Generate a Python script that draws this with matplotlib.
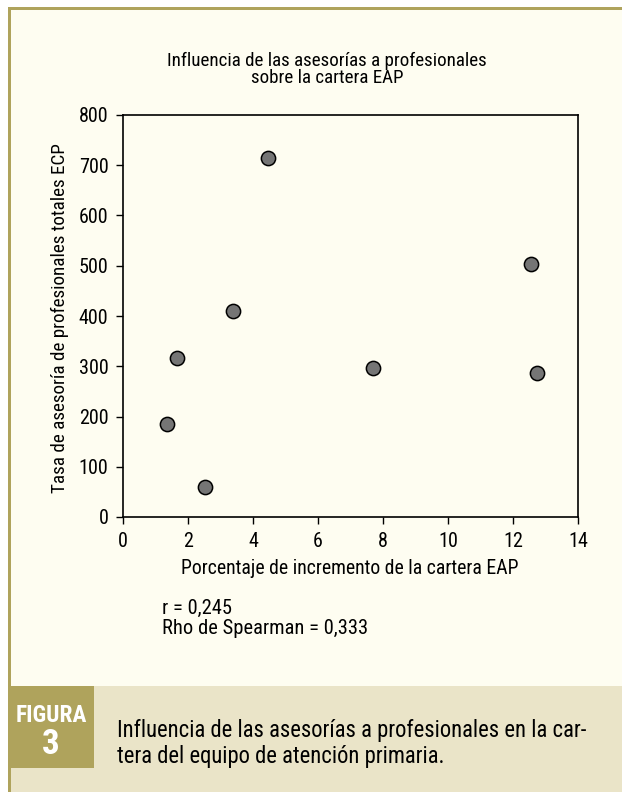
import matplotlib
matplotlib.use("Agg")
import matplotlib.pyplot as plt
from matplotlib.patches import Rectangle
from matplotlib import font_manager as fm

# ---- data ----
x_incremento = [1.35, 1.66, 2.52, 3.38, 4.46, 7.69, 12.55, 12.74]
y_tasa = [185, 316, 60, 410, 714, 297, 503, 287]
x_ticks = [0, 2, 4, 6, 8, 10, 12, 14]
y_ticks = [0, 100, 200, 300, 400, 500, 600, 700, 800]

title_text = "Influencia de las asesorías a profesionales\nsobre la cartera EAP"
xlabel_text = "Porcentaje de incremento de la cartera EAP"
ylabel_text = "Tasa de asesoría de profesionales totales ECP"
stats_lines = ["r = 0,245", "Rho de Spearman = 0,333"]
caption_text = "Influencia de las asesorías a profesionales en la car-\ntera del equipo de atención primaria."

# ---- pick a narrow font if available ----
ttf = fm.fontManager.ttflist
names = {f.name for f in ttf}
stretch = "normal"
family = None
for cand in ["Liberation Sans Narrow", "Roboto Condensed", "Arial Narrow",
             "Nimbus Sans Narrow", "Open Sans Condensed"]:
    if cand in names:
        family = cand
        break
if family is None:
    if any(f.name == "DejaVu Sans" and str(f.stretch) in ("condensed", "semi-condensed", "75", "87")
           for f in ttf):
        family = "DejaVu Sans"
        stretch = "condensed"
    else:
        family = "Roboto"
FONT = [family, "DejaVu Sans"]
plt.rcParams["font.family"] = FONT
plt.rcParams["font.stretch"] = stretch

W, H = 622, 792
fig = plt.figure(figsize=(W / 100, H / 100), dpi=100)
fig.patch.set_facecolor("white")
renderer = fig.canvas.get_renderer()


def fx(px):
    return px / W


def fy(py):
    return 1 - py / H


def fit_width(t, target_px, vertical=False):
    ext = t.get_window_extent(renderer=renderer)
    w = ext.height if vertical else ext.width
    if w > 0:
        t.set_fontsize(t.get_fontsize() * target_px / w)
    return t.get_fontsize()


olive = "#AFA35C"
cream = "#FEFDF1"
band = "#EAE4C8"

fig.patches.append(Rectangle((fx(8), 0), fx(W - 8), fy(7), transform=fig.transFigure,
                             facecolor=cream, edgecolor="none", zorder=-5))
fig.patches.append(Rectangle((fx(11), 0), fx(W - 11), fy(686), transform=fig.transFigure,
                             facecolor=band, edgecolor="none", zorder=-4))
fig.patches.append(Rectangle((fx(11), fy(768)), fx(94 - 11), (768 - 686) / H, transform=fig.transFigure,
                             facecolor=olive, edgecolor="none", zorder=-3))
fig.patches.append(Rectangle((fx(8), fy(10)), fx(W - 8), 3 / H, transform=fig.transFigure,
                             facecolor=olive, edgecolor="none", zorder=-3))
fig.patches.append(Rectangle((fx(8), 0), 3 / W, fy(7), transform=fig.transFigure,
                             facecolor=olive, edgecolor="none", zorder=-3))

# title (fit to reference width of first line)
t_title1 = fig.text(fx(327), fy(61), title_text.split("\n")[0], ha="center", va="center", fontsize=12)
base = fit_width(t_title1, 319)
fig.text(fx(327), fy(78), title_text.split("\n")[1], ha="center", va="center", fontsize=base)

xl = fig.text(fx(350), fy(568), xlabel_text, ha="center", va="center", fontsize=12)
xfs = fit_width(xl, 337)
yl = fig.text(fx(60), fy(318), ylabel_text, ha="center", va="center", rotation=90, fontsize=xfs)
fit_width(yl, 350, vertical=True)

ax = fig.add_axes([fx(123), fy(517), (578 - 123) / W, (517 - 115) / H])
ax.set_zorder(5)
ax.set_facecolor("none")
ax.scatter(x_incremento, y_tasa, s=105, facecolor="#757575", edgecolor="black",
           linewidth=1.1, zorder=3, clip_on=False)
ax.set_xlim(0, 14)
ax.set_ylim(0, 800)
ax.set_xticks(x_ticks)
ax.set_yticks(y_ticks)
ax.tick_params(axis="both", direction="out", length=5, width=1, labelsize=xfs * 1.02,
               colors="black")
ax.tick_params(axis="x", pad=6)
ax.tick_params(axis="y", pad=5.5)
for sp in ax.spines.values():
    sp.set_linewidth(1.2)

s1 = fig.text(fx(162), fy(608), stats_lines[0], ha="left", va="center", fontsize=xfs)
s2 = fig.text(fx(162), fy(628), stats_lines[1], ha="left", va="center", fontsize=xfs)
sfs = fit_width(s2, 205)
s1.set_fontsize(sfs)

c1 = fig.text(fx(117), fy(731), caption_text.split("\n")[0], ha="left", va="center", fontsize=15)
cfs = fit_width(c1, 468)
fig.text(fx(117), fy(757), caption_text.split("\n")[1], ha="left", va="center", fontsize=cfs)

fg = fig.text(fx(51), fy(716), "FIGURA", ha="center", va="center", fontsize=16,
              fontweight="bold", color="white")
ffs = fit_width(fg, 71)
fig.text(fx(51), fy(745), "3", ha="center", va="center", fontsize=ffs * 1.5,
         fontweight="bold", color="white")

fig.savefig("out.png", dpi=100, facecolor=fig.get_facecolor())
